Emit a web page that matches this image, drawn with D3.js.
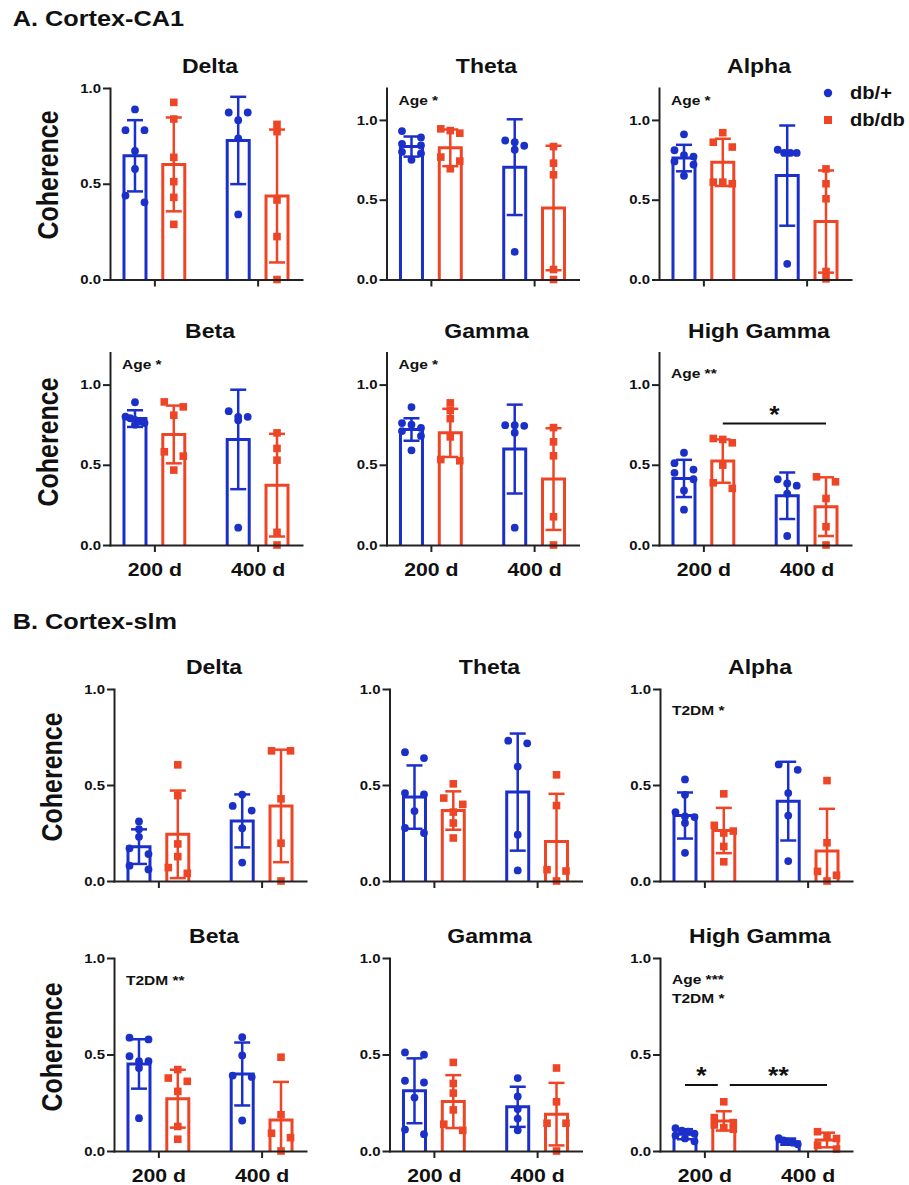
<!DOCTYPE html>
<html><head><meta charset="utf-8">
<script src="https://cdn.jsdelivr.net/npm/d3@7"></script>
<style>
body{margin:0;background:#fff}
svg{display:block}
text{font-family:"Liberation Sans",Arial,Helvetica,sans-serif;font-weight:bold;fill:#111}
</style>
</head><body>
<svg id="c" width="909" height="1185"></svg>
<script>
// ---------------- DATA ----------------
const regions = ["A. Cortex-CA1", "B. Cortex-slm"];
const bands = ["Delta", "Theta", "Alpha", "Beta", "Gamma", "High Gamma"];
const groups = ["200 d", "400 d"];
const series = ["db/+", "db/db"];
const yTickValues = [0, 0.5, 1.0];
const yMaxCA1 = [1.0, 1.2, 1.2, 1.2, 1.2, 1.2];
const yMaxSlm = [1.0, 1.0, 1.0, 1.0, 1.0, 1.0];

// order inside each band: [db/+ 200 d, db/db 200 d, db/+ 400 d, db/db 400 d]
const meanCA1 = [
  [0.646, 0.601, 0.726, 0.436],
  [0.833, 0.825, 0.704, 0.448],
  [0.761, 0.734, 0.651, 0.363],
  [0.788, 0.689, 0.658, 0.373],
  [0.720, 0.699, 0.598, 0.411],
  [0.415, 0.523, 0.307, 0.239]
];
const sdCA1 = [
  [0.186, 0.245, 0.228, 0.347],
  [0.063, 0.115, 0.300, 0.390],
  [0.083, 0.148, 0.314, 0.320],
  [0.052, 0.180, 0.310, 0.320],
  [0.070, 0.150, 0.277, 0.317],
  [0.116, 0.135, 0.145, 0.183]
];
const ptsCA1 = [
  [[0.888, 0.78, 0.78, 0.671, 0.577, 0.438, 0.403],
   [0.925, 0.838, 0.638, 0.511, 0.429, 0.288],
   [0.872, 0.872, 0.832, 0.737, 0.34],
   [0.81, 0.772, 0.415, 0.224, 0.0]],
  [[0.93, 0.89, 0.85, 0.84, 0.80, 0.79, 0.75],
   [0.944, 0.933, 0.917, 0.767, 0.742, 0.694],
   [0.871, 0.86, 0.838, 0.813, 0.173],
   [0.833, 0.729, 0.656, 0.0625, 0.0]],
  [[0.91, 0.81, 0.78, 0.77, 0.74, 0.72, 0.65],
   [0.92, 0.86, 0.83, 0.61, 0.60, 0.61],
   [0.813, 0.793, 0.793, 0.793, 0.098],
   [0.693, 0.60, 0.506, 0.05, 0.004]],
  [[0.89, 0.80, 0.79, 0.78, 0.77, 0.76, 0.75],
   [0.892, 0.861, 0.809, 0.581, 0.554, 0.467],
   [0.834, 0.799, 0.799, 0.778, 0.108],
   [0.699, 0.602, 0.529, 0.079, 0.0]],
  [[0.86, 0.76, 0.75, 0.73, 0.71, 0.68, 0.59],
   [0.886, 0.84, 0.788, 0.674, 0.533, 0.525],
   [0.747, 0.747, 0.743, 0.70, 0.108],
   [0.732, 0.643, 0.556, 0.176, 0.0]],
  [[0.575, 0.51, 0.47, 0.45, 0.41, 0.34, 0.22],
   [0.664, 0.658, 0.637, 0.498, 0.388, 0.353],
   [0.41, 0.384, 0.37, 0.32, 0.056],
   [0.425, 0.394, 0.29, 0.114, 0.0]]
];

const meanSlm = [
  [0.179, 0.243, 0.313, 0.391],
  [0.437, 0.367, 0.463, 0.206],
  [0.341, 0.263, 0.416, 0.156],
  [0.451, 0.271, 0.399, 0.161],
  [0.312, 0.256, 0.229, 0.191],
  [0.087, 0.156, 0.0485, 0.057]
];
const sdSlm = [
  [0.090, 0.228, 0.138, 0.293],
  [0.165, 0.100, 0.305, 0.248],
  [0.120, 0.118, 0.205, 0.220],
  [0.128, 0.150, 0.163, 0.197],
  [0.168, 0.137, 0.104, 0.162],
  [0.026, 0.050, 0.016, 0.038]
];
const ptsSlm = [
  [[0.31, 0.27, 0.23, 0.17, 0.14, 0.08, 0.06],
   [0.605, 0.445, 0.193, 0.127, 0.07, 0.04],
   [0.45, 0.391, 0.367, 0.275, 0.096],
   [0.678, 0.678, 0.428, 0.197, 0.0]],
  [[0.671, 0.64, 0.458, 0.451, 0.364, 0.276, 0.25],
   [0.506, 0.432, 0.399, 0.359, 0.302, 0.224],
   [0.731, 0.717, 0.596, 0.241, 0.055],
   [0.553, 0.393, 0.059, 0.052, 0.0]],
  [[0.529, 0.449, 0.359, 0.336, 0.333, 0.302, 0.147],
   [0.454, 0.29, 0.26, 0.25, 0.18, 0.10],
   [0.607, 0.579, 0.458, 0.341, 0.104],
   [0.523, 0.199, 0.05, 0.03, 0.0]],
  [[0.587, 0.578, 0.491, 0.465, 0.465, 0.43, 0.17],
   [0.422, 0.378, 0.361, 0.309, 0.127, 0.061],
   [0.59, 0.495, 0.391, 0.384, 0.158],
   [0.486, 0.188, 0.092, 0.069, 0.0]],
  [[0.511, 0.499, 0.364, 0.355, 0.277, 0.111, 0.087],
   [0.459, 0.35, 0.30, 0.213, 0.139, 0.107],
   [0.378, 0.283, 0.217, 0.168, 0.107],
   [0.43, 0.255, 0.144, 0.144, 0.0]],
  [[0.118, 0.105, 0.10, 0.09, 0.08, 0.065, 0.05],
   [0.255, 0.173, 0.147, 0.135, 0.121, 0.113],
   [0.066, 0.055, 0.049, 0.043, 0.035],
   [0.10, 0.075, 0.065, 0.03, 0.01]]
];

// statistics annotations: [text, y in data units]
const annotCA1 = [[], [["Age *", 1.125]], [["Age *", 1.125]], [["Age *", 1.127]], [["Age *", 1.127]], [["Age **", 1.072]]];
const annotSlm = [[], [], [["T2DM *", 0.89]], [["T2DM **", 0.886]], [], [["Age ***", 0.891], ["T2DM *", 0.791]]];
const sigBars = [
  {region: 0, band: 5, from: ["200 d", "db/db"], to: ["400 d", "db/db"], y: 0.757, label: "*"},
  {region: 1, band: 5, from: ["200 d", "db/+"], to: ["200 d", "db/db"], y: 0.342, label: "*"},
  {region: 1, band: 5, from: ["200 d", "db/db"], to: ["400 d", "db/db"], y: 0.342, label: "**"}
];

// ---------------- LAYOUT / STYLE ----------------
const SX = 1.15; // horizontal stretch of the original figure's lettering
const colors = {"db/+": "#1b30c9", "db/db": "#ee4526"};
const colX = [[110, 386.5, 659], [114, 389.5, 660]];
const rowY = [[[279.5, 88], [545, 352.5]], [[881, 689], [1151, 958]]];
const axisLen = 192;
const ylabX = [48, 52];
const ylabY = [[175, 442], [777, 1047]];
const panelTitleY = [[66, 330.5], [666.5, 936]];
const regionTitleY = [18.3, 620.7];
const axisColor = "#222";

const data = [
  {mean: meanCA1, sd: sdCA1, pts: ptsCA1, ymax: yMaxCA1, annot: annotCA1},
  {mean: meanSlm, sd: sdSlm, pts: ptsSlm, ymax: yMaxSlm, annot: annotSlm}
];

const svg = d3.select("#c");
svg.append("rect").attr("width", 909).attr("height", 1185).attr("fill", "#fff");

function label(g, x, y, s, size, anchor, rot) {
  return g.append("text")
    .attr("transform", `translate(${x},${y}) scale(${SX},1)` + (rot ? " rotate(-90)" : ""))
    .attr("text-anchor", anchor)
    .attr("dy", "0.36em")
    .style("font-size", size + "px")
    .text(s);
}

function swarm(vals, y) {
  const sorted = vals.map(v => ({v, py: y(v)})).sort((a, b) => a.py - b.py);
  const rows = [];
  sorted.forEach(p => {
    const r = rows[rows.length - 1];
    if (r && p.py - r[0].py < 7) r.push(p); else rows.push([p]);
  });
  rows.forEach(r => {
    const n = r.length;
    r.forEach((p, i) => { p.dx = n === 1 ? 0 : -9.5 + i * 19 / (n - 1); });
  });
  return sorted;
}

const panelScales = {};

regions.forEach((reg, ri) => {
  label(svg, 12.7, regionTitleY[ri], reg, 22, "start", false);
  const D = data[ri];
  bands.forEach((band, bi) => {
    const row = Math.floor(bi / 3), col = bi % 3;
    const ax = colX[ri][col];
    const [y0, yTop] = rowY[ri][row];
    const g = svg.append("g");
    const y = d3.scaleLinear().domain([0, D.ymax[bi]]).range([y0, yTop]);
    const xg = d3.scalePoint().domain(groups).range([ax, ax + axisLen]).padding(0.43);
    const xs = d3.scaleBand().domain(series).range([-38.8, 38.8]).paddingInner(0.433).paddingOuter(0.2165);
    panelScales[ri + "-" + bi] = {y, xg, xs};

    // panel title
    label(g, ax + axisLen / 2 + 4, panelTitleY[ri][row], band, 20, "middle", false);
    // y label
    if (col === 0) label(g, ylabX[ri], ylabY[ri][row], "Coherence", 25, "middle", true);

    // bars
    groups.forEach((grp, gi) => {
      series.forEach((ser, si) => {
        const k = gi * 2 + si;
        const m = D.mean[bi][k], s = D.sd[bi][k];
        const cx = xg(grp) + xs(ser) + xs.bandwidth() / 2;
        const c = colors[ser];
        const hw = xs.bandwidth() / 2;
        g.append("path")
          .attr("d", `M${cx - hw},${y(0)}V${y(m)}H${cx + hw}V${y(0)}`)
          .attr("fill", "#fff").attr("stroke", c).attr("stroke-width", 3);
        // error bars
        const top = m + s, bot = Math.max(0, m - s);
        const eb = g.append("g").attr("stroke", c).attr("stroke-width", 2.5).attr("fill", "none");
        eb.append("line").attr("x1", cx).attr("x2", cx).attr("y1", y(top)).attr("y2", y(bot));
        eb.append("line").attr("x1", cx - 8).attr("x2", cx + 8).attr("y1", y(top)).attr("y2", y(top));
        if (m - s > 0) eb.append("line").attr("x1", cx - 8).attr("x2", cx + 8).attr("y1", y(bot)).attr("y2", y(bot));
        // points
        const pts = swarm(D.pts[bi][k], y);
        pts.forEach(p => {
          if (si === 0) {
            g.append("circle").attr("cx", cx + p.dx).attr("cy", p.py).attr("r", 3.9).attr("fill", c);
          } else {
            g.append("rect").attr("x", cx + p.dx - 3.8).attr("y", p.py - 3.8)
              .attr("width", 7.6).attr("height", 7.6).attr("fill", c);
          }
        });
      });
    });

    // axes
    const yAxis = d3.axisLeft(y).tickValues(yTickValues).tickFormat(d3.format(".1f"))
      .tickSize(7).tickSizeOuter(0).tickPadding(2);
    const ya = g.append("g").attr("transform", `translate(${ax},0)`).call(yAxis);
    ya.selectAll("text").attr("x", -9 / SX).attr("transform", `scale(${SX},1)`)
      .style("font-size", "13px").attr("fill", "#111");
    const xAxis = d3.axisBottom(d3.scalePoint().domain(groups).range([0, axisLen]).padding(0.43))
      .tickSize(7).tickSizeOuter(0);
    const xa = g.append("g").attr("transform", `translate(${ax},${y0})`).call(xAxis);
    if (row === 1) {
      xa.selectAll("text").attr("y", 24.5).attr("dy", "0.36em").attr("transform", `scale(${SX},1)`)
        .attr("x", 0).style("font-size", "18.5px").attr("fill", "#111");
      xa.selectAll(".tick").each(function() {
        const t = d3.select(this);
        const tr = t.attr("transform");
      });
    } else {
      xa.selectAll("text").remove();
    }
    [ya, xa].forEach(a => {
      a.selectAll("path,line").attr("stroke", axisColor).attr("stroke-width", 2);
      a.select(".domain").attr("stroke-linecap", "square");
      a.attr("font-family", null).attr("font-size", null);
    });

    // annotations
    D.annot[bi].forEach(([txt, yv]) => {
      label(g, ax + 12, y(yv), txt, 13.5, "start", false);
    });
  });
});

// significance bars
sigBars.forEach((sb, i) => {
  const {y, xg, xs} = panelScales[sb.region + "-" + sb.band];
  const cxOf = ([grp, ser]) => xg(grp) + xs(ser) + xs.bandwidth() / 2;
  let x1 = cxOf(sb.from), x2 = cxOf(sb.to);
  sigBars.forEach((o, j) => {
    if (j === i || o.region !== sb.region || o.band !== sb.band || o.y !== sb.y) return;
    if (o.from.join() === sb.to.join()) x2 -= 6;
    if (o.to.join() === sb.from.join()) x1 += 6;
  });
  const yy = y(sb.y);
  svg.append("line").attr("x1", x1).attr("x2", x2).attr("y1", yy).attr("y2", yy)
    .attr("stroke", "#111").attr("stroke-width", 2);
  svg.append("text").attr("transform", `translate(${(x1 + x2) / 2},${yy - 1}) scale(${SX},1)`)
    .attr("text-anchor", "middle").style("font-size", "23px").text(sb.label);
});

// legend
const lg = svg.append("g");
series.forEach((ser, si) => {
  const ly = 93 + si * 27;
  if (si === 0) lg.append("circle").attr("cx", 828).attr("cy", ly).attr("r", 4.2).attr("fill", colors[ser]);
  else lg.append("rect").attr("x", 824).attr("y", ly - 4).attr("width", 8).attr("height", 8).attr("fill", colors[ser]);
  label(lg, 850, ly, ser, 17.5, "start", false);
});
</script>
</body></html>
